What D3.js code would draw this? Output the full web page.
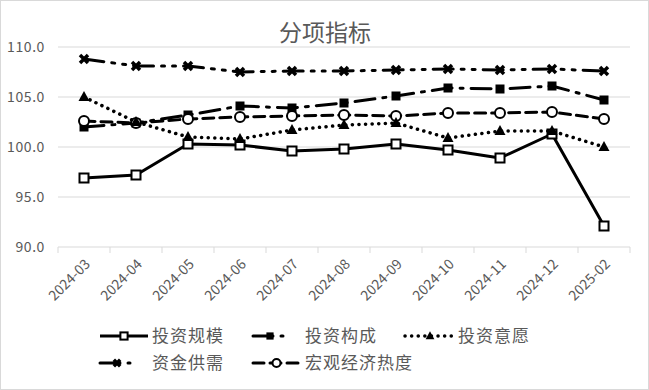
<!DOCTYPE html>
<html>
<head>
<meta charset="utf-8">
<script src="https://cdn.jsdelivr.net/npm/d3@7"></script>
<style>
  body { margin: 0; background: #fff; }
  #chart svg { display: block; }
  text { font-family: "Noto Sans CJK SC", "Liberation Sans", sans-serif; fill: #595959; }
</style>
</head>
<body>
<div id="chart"></div>
<script>
// 月份
const months = ["2024-03", "2024-04", "2024-05", "2024-06", "2024-07", "2024-08",
                "2024-09", "2024-10", "2024-11", "2024-12", "2025-02"];

// 各分项指标
const touziGuimo  = [96.9, 97.2, 100.3, 100.2, 99.6, 99.8, 100.3, 99.7, 98.9, 101.3, 92.1];
const touziGoucheng = [102.0, 102.4, 103.2, 104.1, 103.9, 104.4, 105.1, 105.9, 105.8, 106.1, 104.7];
const touziYiyuan = [105.0, 102.5, 101.0, 100.8, 101.7, 102.2, 102.4, 100.9, 101.6, 101.6, 100.0];
const zijinGongxu = [108.8, 108.1, 108.1, 107.5, 107.6, 107.6, 107.7, 107.8, 107.7, 107.8, 107.6];
const hongguanRedu = [102.6, 102.4, 102.8, 103.0, 103.1, 103.2, 103.1, 103.4, 103.4, 103.5, 102.8];

const yTicks = [90, 95, 100, 105, 110];

const series = [
  {name: "投资规模", values: touziGuimo, dash: null, marker: "square-open"},
  {name: "投资构成", values: touziGoucheng, dash: "20,8,3,8", marker: "square"},
  {name: "投资意愿", values: touziYiyuan, dash: "0.1,6.5", marker: "triangle"},
  {name: "资金供需", values: zijinGongxu, dash: "20,8,3,8,3,8", marker: "x"},
  {name: "宏观经济热度", values: hongguanRedu, dash: "11,6", marker: "circle"}
];

const W = 649, H = 390;
const svg = d3.select("#chart").append("svg").attr("width", W).attr("height", H);

svg.append("rect").attr("x", 0.5).attr("y", 0.5).attr("width", W - 1).attr("height", H - 1)
   .attr("fill", "#fff").attr("stroke", "#d9d9d9");

svg.append("text").attr("x", 325).attr("y", 41).attr("text-anchor", "middle")
   .attr("font-size", 23).text("分项指标");

const x = d3.scaleBand().domain(months).range([58, 630]);
const y = d3.scaleLinear().domain([90, 110]).range([247, 47]);

// 网格线
svg.append("g").selectAll("line").data(yTicks.slice(1)).enter().append("line")
   .attr("x1", 58).attr("x2", 630).attr("y1", d => y(d)).attr("y2", d => y(d))
   .attr("stroke", "#d9d9d9").attr("stroke-width", 1);

// y 轴标签
svg.append("g").selectAll("text").data(yTicks).enter().append("text")
   .attr("x", 45).attr("y", d => y(d) + 5).attr("text-anchor", "end")
   .attr("font-size", 14).attr("letter-spacing", 0.6).text(d => d.toFixed(1));

// x 轴
const xAxis = svg.append("g").attr("transform", `translate(0,${y(90)})`);
xAxis.append("line").attr("x1", 58).attr("x2", 630).attr("stroke", "#d9d9d9");
const edges = months.map(m => x(m)).concat([630]);
xAxis.selectAll("line.tk").data(edges).enter().append("line").attr("class", "tk")
   .attr("x1", d => d).attr("x2", d => d).attr("y1", 0).attr("y2", 6).attr("stroke", "#d9d9d9");
xAxis.selectAll("text").data(months).enter().append("text")
   .attr("transform", d => `translate(${x(d) + x.bandwidth() / 2 + 7},${18}) rotate(-45)`)
   .attr("text-anchor", "end").attr("font-size", 14).text(d => d);

const cx = d => x(d) + x.bandwidth() / 2;

function drawMarker(g, type, px, py, s) {
  s = s || 1;
  if (type === "square-open") {
    g.append("rect").attr("x", px - 4.5 * s).attr("y", py - 4.5 * s).attr("width", 9 * s).attr("height", 9 * s)
     .attr("fill", "#fff").attr("stroke", "#000").attr("stroke-width", 2);
  } else if (type === "square") {
    g.append("rect").attr("x", px - 4.5 * s).attr("y", py - 4.5 * s).attr("width", 9 * s).attr("height", 9 * s)
     .attr("fill", "#000");
  } else if (type === "triangle") {
    g.append("path").attr("d", `M${px},${py - 6 * s}L${px + 5.5 * s},${py + 4 * s}L${px - 5.5 * s},${py + 4 * s}Z`)
     .attr("fill", "#000");
  } else if (type === "circle") {
    g.append("circle").attr("cx", px).attr("cy", py).attr("r", 5 * s)
     .attr("fill", "#fff").attr("stroke", "#000").attr("stroke-width", 2);
  } else if (type === "x") {
    g.append("path").attr("d", `M${px - 4 * s},${py - 4 * s}L${px + 4 * s},${py + 4 * s}M${px + 4 * s},${py - 4 * s}L${px - 4 * s},${py + 4 * s}`)
     .attr("stroke", "#000").attr("stroke-width", 3.5);
  }
}

const line = d3.line().x((d, i) => cx(months[i])).y(d => y(d));
const drawOrder = [0, 3, 1, 4, 2];

drawOrder.forEach(k => {
  const s = series[k];
  const g = svg.append("g");
  g.append("path").datum(s.values).attr("d", line).attr("fill", "none")
   .attr("stroke", "#000").attr("stroke-width", s.marker === "triangle" ? 3.5 : 3)
   .attr("stroke-linecap", s.dash ? "round" : "butt").attr("stroke-linejoin", "round")
   .attr("stroke-dasharray", s.dash);
  s.values.forEach((v, i) => drawMarker(g, s.marker, cx(months[i]), y(v)));
});

// 图例
const legendPos = [
  {sx: 100, ex: 148, tx: 152, ty: 336},
  {sx: 253, ex: 283, tx: 305, ty: 336},
  {sx: 405, ex: 455, tx: 458, ty: 336},
  {sx: 100, ex: 130, tx: 152, ty: 363},
  {sx: 253, ex: 300, tx: 305, ty: 363}
];
series.forEach((s, k) => {
  const p = legendPos[k];
  const g = svg.append("g");
  g.append("line").attr("x1", p.sx).attr("x2", p.ex).attr("y1", p.ty).attr("y2", p.ty)
   .attr("stroke", "#000").attr("stroke-width", s.marker === "triangle" ? 3.5 : 3)
   .attr("stroke-linecap", s.dash ? "round" : "butt").attr("stroke-dasharray", s.dash);
  drawMarker(g, s.marker, (p.sx + p.ex) / 2 + (k === 1 || k === 3 ? 2 : 0), p.ty, 0.8);
  g.append("text").attr("x", p.tx).attr("y", p.ty + 6).attr("font-size", 17)
   .attr("letter-spacing", 1).text(s.name);
});
</script>
</body>
</html>
